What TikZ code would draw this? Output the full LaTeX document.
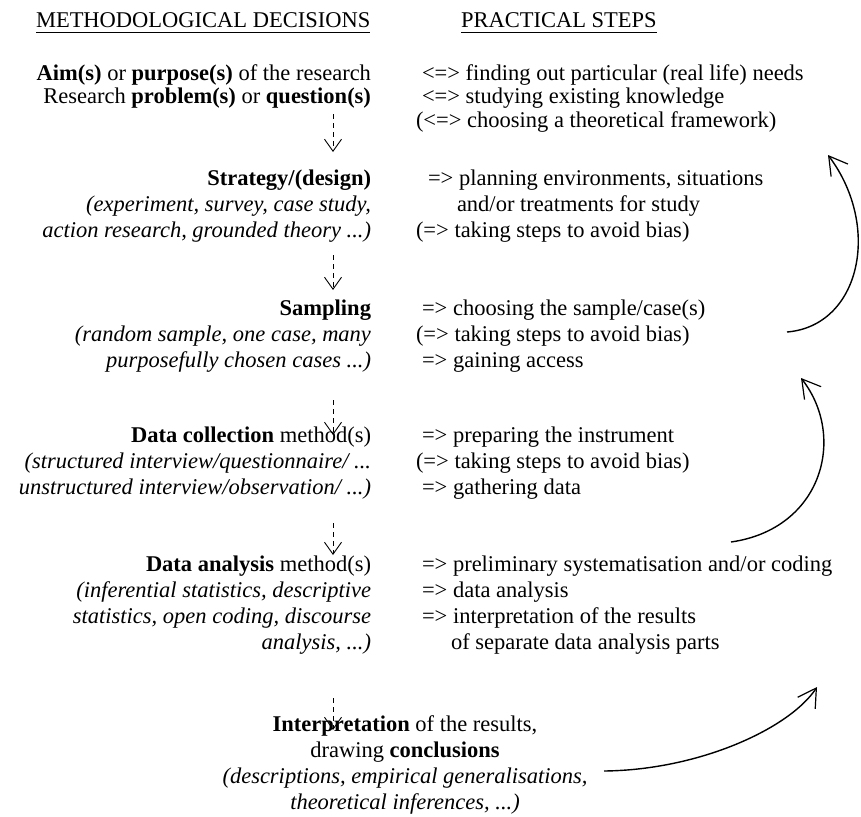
\documentclass[tikz,border=0pt]{standalone}
\usepackage{fontspec}
\setmainfont{Liberation Serif}
\usetikzlibrary{arrows.meta,calc}
\begin{document}
\begin{tikzpicture}[x=1pt,y=-1pt,
  txt/.style={inner sep=0pt,outer sep=0pt,font=\fontsize{22.5}{26}\selectfont},
  lft/.style={txt,anchor=base east},
  rgt/.style={txt,anchor=base west},
  ctr/.style={txt,anchor=base},
  dasharrow/.style={line width=0.9pt,dash pattern=on 5pt off 4pt,-{Straight Barb[length=12pt,width=17pt,line width=0.9pt]}},
  loop/.style={line width=1.4pt,-{Straight Barb[length=18pt,width=21pt,line width=1.2pt]}}]
\useasboundingbox (0,0) rectangle (861,816);
% titles
\node[rgt] (t1) at (36,28) {METHODOLOGICAL DECISIONS};
\node[rgt] (t2) at (461,28) {PRACTICAL STEPS};
\draw[line width=0.9pt] ($(t1.base west)+(0,4)$) -- ($(t1.base east)+(0,4)$);
\draw[line width=0.9pt] ($(t2.base west)+(0,4)$) -- ($(t2.base east)+(0,4)$);
% left column
\node[lft] (l1) at (371,81) {\textbf{Aim(s)} or \textbf{purpose(s)} of the research};
\node[lft] (l2) at (371,103) {Research \textbf{problem(s)} or \textbf{question(s)}};
\node[lft] (l3) at (371,185) {\textbf{Strategy/(design)}};
\node[lft] (l4) at (371,211) {\textit{(experiment, survey, case study,}};
\node[lft] (l5) at (371,237) {\textit{action research, grounded theory ...)}};
\node[lft] (l6) at (371,315) {\textbf{Sampling}};
\node[lft] (l7) at (371,341) {\textit{(random sample, one case, many}};
\node[lft] (l8) at (371,367) {\textit{purposefully chosen cases ...)}};
\node[lft] (l9) at (371,442) {\textbf{Data collection} method(s)};
\node[lft] (l10) at (371,468) {\textit{(structured interview/questionnaire/ ...}};
\node[lft] (l11) at (371,494) {\textit{unstructured interview/observation/ ...)}};
\node[lft] (l12) at (371,571) {\textbf{Data analysis} method(s)};
\node[lft] (l13) at (371,597) {\textit{(inferential statistics, descriptive}};
\node[lft] (l14) at (371,623) {\textit{statistics, open coding, discourse}};
\node[lft] (l15) at (371,649) {\textit{analysis, ...)}};
% bottom block
\node[ctr] (c1) at (405,731) {\textbf{Interpretation} of the results,};
\node[ctr] (c2) at (405,757) {drawing \textbf{conclusions}};
\node[ctr] (c3) at (405,783) {\textit{(descriptions, empirical generalisations,}};
\node[ctr] (c4) at (405,809) {\textit{theoretical inferences, ...)}};
% right column
\node[rgt] (r1) at (422,81) {<=> finding out particular (real life) needs};
\node[rgt] (r2) at (422,103) {<=> studying existing knowledge};
\node[rgt] (r3) at (416,127) {(<=> choosing a theoretical framework)};
\node[rgt] (r4) at (428,185) {=> planning environments, situations};
\node[rgt] (r5) at (457,211) {and/or treatments for study};
\node[rgt] (r6) at (416,237) {(=> taking steps to avoid bias)};
\node[rgt] (r7) at (422,315) {=> choosing the sample/case(s)};
\node[rgt] (r8) at (416,341) {(=> taking steps to avoid bias)};
\node[rgt] (r9) at (422,367) {=> gaining access};
\node[rgt] (r10) at (422,442) {=> preparing the instrument};
\node[rgt] (r11) at (416,468) {(=> taking steps to avoid bias)};
\node[rgt] (r12) at (422,494) {=> gathering data};
\node[rgt] (r13) at (422,571) {=> preliminary systematisation and/or coding};
\node[rgt] (r14) at (422,597) {=> data analysis};
\node[rgt] (r15) at (422,623) {=> interpretation of the results};
\node[rgt] (r16) at (451,649) {of separate data analysis parts};
% dashed arrows
\coordinate (d1s) at (333,114); \coordinate (d1e) at (333,152);
\coordinate (d2s) at (333,255); \coordinate (d2e) at (333,290);
\coordinate (d3s) at (333,400); \coordinate (d3e) at (333,435);
\coordinate (d4s) at (333,523); \coordinate (d4e) at (333,555);
\coordinate (d5s) at (333,698); \coordinate (d5e) at (333,730);
\draw[dasharrow] (d1s) -- (d1e);
\draw[dasharrow] (d2s) -- (d2e);
\draw[dasharrow] (d3s) -- (d3e);
\draw[dasharrow] (d4s) -- (d4e);
\draw[dasharrow] (d5s) -- (d5e);
% curved feedback arrows
\coordinate (a1s) at (787,332); \coordinate (a1e) at (828,155);
\coordinate (a2s) at (731,542); \coordinate (a2e) at (801,378);
\coordinate (a3s) at (604,771); \coordinate (a3e) at (817,687);
\draw[loop] (a1s) .. controls (860,326) and (882,227) .. (a1e);
\draw[loop] (a2s) .. controls (822,529) and (847,437) .. (a2e);
\draw[loop] (a3s) .. controls (700,770) and (790,728) .. (a3e);
\end{tikzpicture}
\end{document}
